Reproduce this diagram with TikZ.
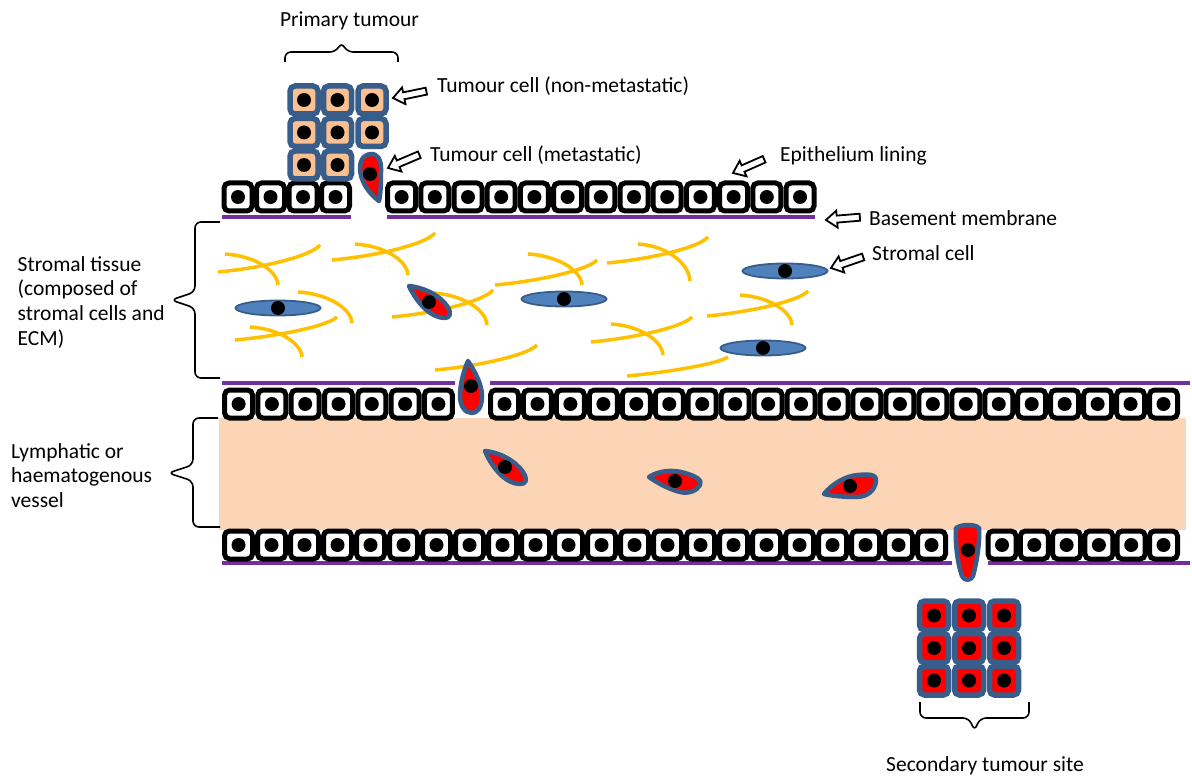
\documentclass[tikz,border=0pt]{standalone}
\usepackage{fontspec}
\setmainfont{Carlito}
\usetikzlibrary{shapes.geometric,calc}
\definecolor{cellblue}{HTML}{385D8A}
\definecolor{stromafill}{HTML}{4F81BD}
\definecolor{tumourfill}{HTML}{FAC090}
\definecolor{vesselfill}{HTML}{FBD5B5}
\definecolor{membrane}{HTML}{7030A0}
\definecolor{fibre}{HTML}{FFC000}
\definecolor{metred}{HTML}{FF0000}

\begin{document}
\begin{tikzpicture}[x=1pt,y=-1pt,
  lbl/.style={font=\fontsize{21.5}{24.8}\selectfont, inner sep=0pt},
  epi/.style={draw=black, fill=white, line width=5pt, rounded corners=5pt,
              minimum size=28pt, inner sep=0pt},
  tum/.style={draw=cellblue, fill=tumourfill, line width=5.5pt, rounded corners=5pt,
              minimum size=28pt, inner sep=0pt},
  sectum/.style={tum, fill=metred},
  nucleus/.style={circle, fill=black, minimum size=14pt, inner sep=0pt},
  stroma/.style={ellipse, draw=cellblue, fill=stromafill, line width=1.8pt,
                 minimum width=85pt, minimum height=15pt, inner sep=0pt},
  meta/.style={draw=cellblue, fill=metred, line width=4.5pt, line join=round},
  bm/.style={draw=membrane, line width=4pt},
  ecm/.style={draw=fibre, line width=3.5pt},
  brace/.style={draw=black, line width=1.6pt, rounded corners=6pt},
  pics/pointer/.style={code={
    \draw[line width=1.8pt, fill=white, line join=miter]
      (0,0) -- (11,-8.5) -- (11,-3.5) -- (34,-3.5) -- (34,3.5) -- (11,3.5) -- (11,8.5) -- cycle;}}
]
\useasboundingbox (0,0) rectangle (1192,778);

% vessel lumen
\fill[vesselfill] (219,418) rectangle (1186,530);

% basement membranes
\draw[bm] (222,217) -- (351,217);
\draw[bm] (387,217) -- (815,217);
\draw[bm] (222,383) -- (455,383);
\draw[bm] (490,383) -- (1190,383);
\draw[bm] (222,563) -- (952,563);
\draw[bm] (988,563) -- (1190,563);

% extracellular matrix fibres: rising arcs (bend up at the right end)
\foreach \sx/\sy/\ex/\ey in {
  218/272/320/245, 332/260/435/233, 235/340/337/317, 392/317/493/290,
  495/285/597/260, 435/370/537/345, 607/263/708/237, 707/316/808/291,
  591/342/692/317, 627/376/728/357}
  \draw[ecm] (\sx,\sy) .. controls ($(\sx,\sy)!0.55!(\ex-15,\sy-8)$)
                       and ($(\ex,\ey)!0.55!(\ex-15,\sy-8)$) .. (\ex,\ey);
% falling arcs (bend down at the right end)
\foreach \sx/\sy/\ex/\ey in {
  225/254/278/285, 355/244/408/275, 298/292/352/323, 250/327/302/357,
  433/293/487/325, 528/254/582/285, 638/244/690/281, 740/295/792/325,
  611/324/663/355}
  \draw[ecm] (\sx,\sy) .. controls ($(\sx,\sy)!0.55!(\ex-2,\sy+3)$)
                       and ($(\ex,\ey)!0.55!(\ex-2,\sy+3)$) .. (\ex,\ey);

% stromal cells
\foreach \n/\x/\y in {s1/278/308, s2/564/299, s3/785/271, s4/763/348}{
  \node[stroma] (\n) at (\x,\y) {};
  \node[nucleus] at (\n) {};
}

% epithelium lining above the stroma
\foreach \i in {0,...,3}{
  \node[epi] (ea\i) at ({238+32.5*\i},197) {};
  \node[nucleus] at (ea\i) {};
}
\foreach \i in {0,...,12}{
  \node[epi] (eb\i) at ({401.6+33.2*\i},197) {};
  \node[nucleus] at (eb\i) {};
}
% upper vessel wall
\foreach \i in {0,...,6}{
  \node[epi] (va\i) at ({238.6+33.3*\i},404) {};
  \node[nucleus] at (va\i) {};
}
\foreach \i in {0,...,20}{
  \node[epi] (vb\i) at ({504.5+32.95*\i},404) {};
  \node[nucleus] at (vb\i) {};
}
% lower vessel wall
\foreach \i in {0,...,21}{
  \node[epi] (wa\i) at ({238.5+33*\i},545) {};
  \node[nucleus] at (wa\i) {};
}
\foreach \i in {0,...,5}{
  \node[epi] (wb\i) at ({1002+32.3*\i},545) {};
  \node[nucleus] at (wb\i) {};
}

% primary tumour
\foreach \n/\x/\y in {p1/304/100, p2/337.5/100, p3/372/100,
                      p4/304/132.5, p5/337.5/132.5, p6/372/132.5,
                      p7/304/165, p8/337.5/165}{
  \node[tum] (\n) at (\x,\y) {};
  \node[nucleus] at (\n) {};
}

% secondary tumour
\foreach \n/\x/\y in {q1/934/615.5, q2/969/615.5, q3/1004/615.5,
                      q4/934/648, q5/969/648, q6/1004/648,
                      q7/934/680.5, q8/969/680.5, q9/1004/680.5}{
  \node[sectum, minimum size=29pt] (\n) at (\x,\y) {};
  \node[nucleus] at (\n) {};
}

% metastatic cells on their way
\draw[meta] (379,201) .. controls (368,193) and (360,180) .. (360,168)
  .. controls (360,158) and (366,154) .. (371,154)
  .. controls (378,154) and (381,160) .. (381,168)
  .. controls (381,180) and (381,192) .. cycle;
\node[nucleus] (m1) at (370,174) {};

\draw[meta] (409,286) .. controls (420,287) and (438,293) .. (447,306)
  .. controls (452,313) and (450,318) .. (445,318)
  .. controls (432,318) and (418,305) .. cycle;
\node[nucleus] (m2) at (429,302) {};

\draw[meta] (468,361) .. controls (474,370) and (482,384) .. (482,396)
  .. controls (482,408) and (477,413) .. (472,413)
  .. controls (465,413) and (460,406) .. (460,396)
  .. controls (460,384) and (464,370) .. cycle;
\node[nucleus] (m3) at (471,386) {};

\draw[meta] (485,451) .. controls (497,452) and (514,459) .. (523,472)
  .. controls (528,480) and (526,484) .. (520,484)
  .. controls (507,484) and (493,470) .. cycle;
\node[nucleus] (m4) at (505,467) {};

\draw[meta] (649,477) .. controls (658,471) and (672,469) .. (685,473)
  .. controls (695,476) and (703,480) .. (700,485)
  .. controls (697,491) and (688,494) .. (680,492)
  .. controls (668,489) and (656,482) .. cycle;
\node[nucleus] (m5) at (675,481) {};

\draw[meta] (824,494) .. controls (832,484) and (845,476) .. (858,475)
  .. controls (868,474) and (877,474) .. (876,481)
  .. controls (875,490) and (868,497) .. (856,497)
  .. controls (845,497) and (832,496) .. cycle;
\node[nucleus] (m6) at (850,486) {};

\draw[meta] (956,528) .. controls (962,524) and (975,524) .. (979,528)
  .. controls (980,545) and (976,565) .. (973,576)
  .. controls (971,581) and (964,581) .. (962,576)
  .. controls (958,565) and (955,545) .. cycle;
\node[nucleus] (m7) at (968,550) {};

% braces
\draw[brace] (285,62) -- (285,52) -- (336,52) -- (341.5,42) -- (347,52) -- (398,52) -- (398,62);
\draw[brace] (920,702) -- (920,718) -- (969,718) -- (974.5,731) -- (980,718) -- (1029,718) -- (1029,702);
\draw[brace] (220,222) -- (195,222) -- (195,292) -- (171,300) -- (195,308) -- (195,378) -- (220,378);
\draw[brace] (218,418) -- (193,418) -- (193,465) -- (168,473) -- (193,481) -- (193,527) -- (220,527);

% labels
\node[lbl, anchor=base] (tprim) at (349.5,27) {Primary tumour};
\node[lbl, anchor=base] (tsec) at (985,771) {Secondary tumour site};
\node[lbl, anchor=base west] (tnm) at (437,93) {Tumour cell (non-metastatic)};
\node[lbl, anchor=base west] (tm) at (430,162) {Tumour cell (metastatic)};
\node[lbl, anchor=base west] (tepi) at (780,162) {Epithelium lining};
\node[lbl, anchor=base west] (tbm) at (869,226) {Basement membrane};
\node[lbl, anchor=base west] (tsc) at (872,261) {Stromal cell};
\node[lbl, align=left, anchor=north west] (tstroma) at (17.5,256)
  {Stromal tissue\\(composed of\\stromal cells and\\ECM)};
\node[lbl, align=left, anchor=north west] (tvessel) at (11,443)
  {Lymphatic or\\haematogenous\\vessel};

% pointers
\pic[rotate=11.6] at (393,98) {pointer};
\pic[rotate=23] at (388,168) {pointer};
\pic[rotate=23.8] at (733,173) {pointer};
\pic[rotate=4.7] at (826,220) {pointer};
\pic[rotate=19] at (831,268) {pointer};
\end{tikzpicture}
\end{document}
